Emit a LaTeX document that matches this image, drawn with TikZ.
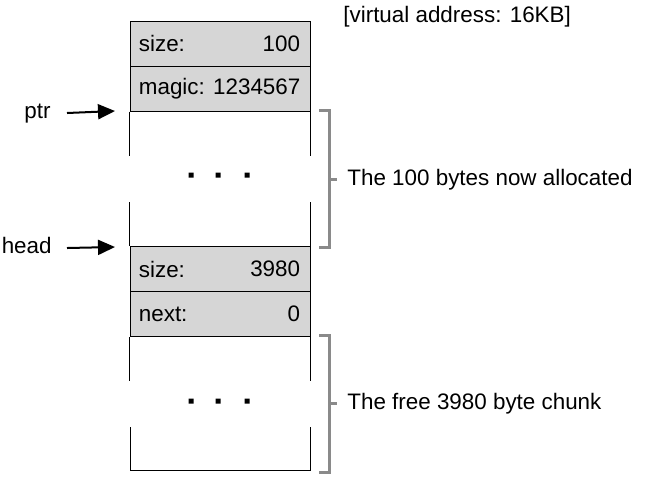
\documentclass[tikz,border=0pt]{standalone}
\usepackage{fontspec}
\setmainfont{Liberation Sans}
\usetikzlibrary{arrows.meta, positioning}
\definecolor{cellgray}{HTML}{D6D6D6}
\definecolor{bracegray}{HTML}{8A8A8A}
\tikzset{
  cell/.style={draw, fill=cellgray, line width=0.5pt, minimum width=90pt, minimum height=22.5pt, inner sep=0pt},
  txt/.style={font=\fontsize{11.2}{13}\selectfont, inner sep=0pt},
  ptrarrow/.style={line width=1pt, -{Triangle[length=8.5pt,width=7.5pt]}},
  bracket/.style={bracegray, line width=1.5pt},
}

\begin{document}
\begin{tikzpicture}[x=0.5pt, y=-0.5pt]
\useasboundingbox (0,0) rectangle (662,500);
% header of the allocated chunk
\node[cell] (size1) at (220,43.5) {};
\node[cell] (magic) at (220,88.5) {};
\node[txt, anchor=west] (size1l) at ([xshift=4.5pt]size1.west) {size:};
\node[txt, anchor=east] (size1r) at ([xshift=-5pt]size1.east) {100};
\node[txt, anchor=west] (magicl) at ([xshift=4.5pt]magic.west) {magic: 1234567};
% header of the free chunk
\node[cell] (size2) at (220,269) {};
\node[cell] (next) at (220,314) {};
\node[txt, anchor=west] (size2l) at ([xshift=4.5pt]size2.west) {size:};
\node[txt, anchor=east] (size2r) at ([xshift=-5pt]size2.east) {3980};
\node[txt, anchor=west] (nextl) at ([xshift=4.5pt]next.west) {next:};
\node[txt, anchor=east] (nextr) at ([xshift=-5pt]next.east) {0};
% open parts of the heap
\draw[line width=0.5pt] (magic.south west) -- ++(0,44) (magic.south east) -- ++(0,44);
\draw[line width=0.5pt] (size2.north west) -- ++(0,-44) (size2.north east) -- ++(0,-44);
\draw[line width=0.5pt] (next.south west) -- ++(0,44) (next.south east) -- ++(0,44);
\draw[line width=0.5pt] (130,427) -- (130,470) -- (310,470) -- (310,427);
\fill \foreach \x in {191,218,247} {(\x-2.5,172.5) rectangle ++(5,5)};
\fill \foreach \x in {191,218,247} {(\x-2.5,398.5) rectangle ++(5,5)};
% pointers
\node[txt, anchor=mid east] (ptr) at (51,113) {ptr};
\node[txt, anchor=mid east] (head) at (52,248) {head};
\coordinate (ptrtip) at (115,111);
\coordinate (headtip) at (115,247);
\draw[ptrarrow] (ptr.mid east -| 67,0) -- (ptrtip);
\draw[ptrarrow] (head.mid east -| 67,0) -- (headtip);
% brackets
\node[txt, anchor=mid west] (alloc) at (347,180) {The 100 bytes now allocated};
\node[txt, anchor=mid west] (freechunk) at (347,404) {The free 3980 byte chunk};
\draw[bracket] (319,110) -- (329,110) -- (329,247) -- (319,247) (329,179) -- (337,179);
\draw[bracket] (319,335) -- (329,335) -- (329,472) -- (319,472) (329,403) -- (337,403);
\node[txt, anchor=mid west] (vaddr) at (343,17) {[virtual address: 16KB]};
\end{tikzpicture}
\end{document}
